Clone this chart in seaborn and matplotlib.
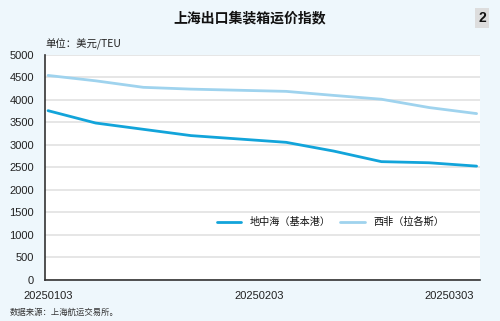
import matplotlib
matplotlib.use("Agg")
import matplotlib.pyplot as plt
import matplotlib.dates as mdates
import seaborn as sns
import pandas as pd

# Weekly index readings (USD/TEU)
dates = ["2025-01-03", "2025-01-10", "2025-01-17", "2025-01-24", "2025-02-07",
         "2025-02-14", "2025-02-21", "2025-02-28", "2025-03-07"]
med = [3760, 3485, 3345, 3205, 3055, 2860, 2625, 2600, 2525]
waf = [4545, 4425, 4280, 4240, 4190, 4100, 4015, 3830, 3695]
series_names = ["地中海（基本港）", "西非（拉各斯）"]
xtick_dates = ["2025-01-03", "2025-02-03", "2025-03-03"]
xtick_labels = ["20250103", "20250203", "20250303"]
yticks = [0, 500, 1000, 1500, 2000, 2500, 3000, 3500, 4000, 4500, 5000]

df = pd.DataFrame({
    "date": pd.to_datetime(dates * 2),
    "value": med + waf,
    "series": [series_names[0]] * len(dates) + [series_names[1]] * len(dates),
})

sns.set_theme(style="white")
plt.rcParams["font.family"] = ["Noto Sans CJK SC", "DejaVu Sans"]

bg = "#eef7fc"
fig = plt.figure(figsize=(5.0, 3.21), dpi=100, facecolor=bg)
ax = fig.add_axes([45 / 500, 1 - 279.5 / 321, 435 / 500, (279.5 - 55) / 321])
ax.set_facecolor("white")

palette = {series_names[0]: "#12a4da", series_names[1]: "#9fd3ee"}
sns.lineplot(data=df, x="date", y="value", hue="series", palette=palette,
             linewidth=2.0, ax=ax, legend=True)

ax.set_ylim(0, 5000)
x0 = mdates.date2num(pd.Timestamp(dates[0])) - 0.45
x1 = mdates.date2num(pd.Timestamp(dates[-1])) + 0.5
ax.set_xlim(x0, x1)

ax.set_yticks(yticks)
ax.set_yticklabels([str(v) for v in yticks], family=["Liberation Sans", "DejaVu Sans"],
                   fontsize=8, color="#222222")
ax.set_xticks(mdates.date2num(pd.to_datetime(xtick_dates)))
ax.set_xticklabels(xtick_labels, family=["Liberation Sans", "DejaVu Sans"],
                   fontsize=8, color="#222222")
ax.tick_params(axis="y", length=0, pad=8)
ax.tick_params(axis="x", length=3, width=1, color="#333333", direction="in", pad=8)
ax.set_xlabel("")
ax.set_ylabel("")

ax.grid(axis="y", color="#e2e2e2", linewidth=1.2)
ax.grid(axis="x", visible=False)
ax.set_axisbelow(True)
for side in ["top", "right"]:
    ax.spines[side].set_visible(False)
for side in ["left", "bottom"]:
    ax.spines[side].set_color("#333333")
    ax.spines[side].set_linewidth(1.2)

leg = ax.legend(loc="center", bbox_to_anchor=(0.656, 0.256), ncol=2, frameon=False,
                fontsize=7.3, handlelength=2.4, columnspacing=1.0, handletextpad=0.8)
for t in leg.get_texts():
    t.set_color("#111111")

fig.text(0.5, 1 - 18 / 321, "上海出口集装箱运价指数", ha="center", va="center",
         fontsize=10, fontweight="bold", color="#111111")
fig.text(482 / 500, 1 - 18 / 321, "2", ha="center", va="center", fontsize=10,
         fontweight="bold", color="#111111",
         family=["Liberation Sans", "DejaVu Sans"],
         bbox=dict(boxstyle="square,pad=0.25", facecolor="#dddddd", edgecolor="none"))
fig.text(45 / 500, 1 - 44 / 321, "单位：美元/TEU", ha="left", va="center",
         fontsize=7.5, color="#222222")
fig.text(10 / 500, 1 - 312 / 321, "数据来源：上海航运交易所。", ha="left", va="center",
         fontsize=6, color="#333333")

fig.savefig("out.png", dpi=100, facecolor=bg)
